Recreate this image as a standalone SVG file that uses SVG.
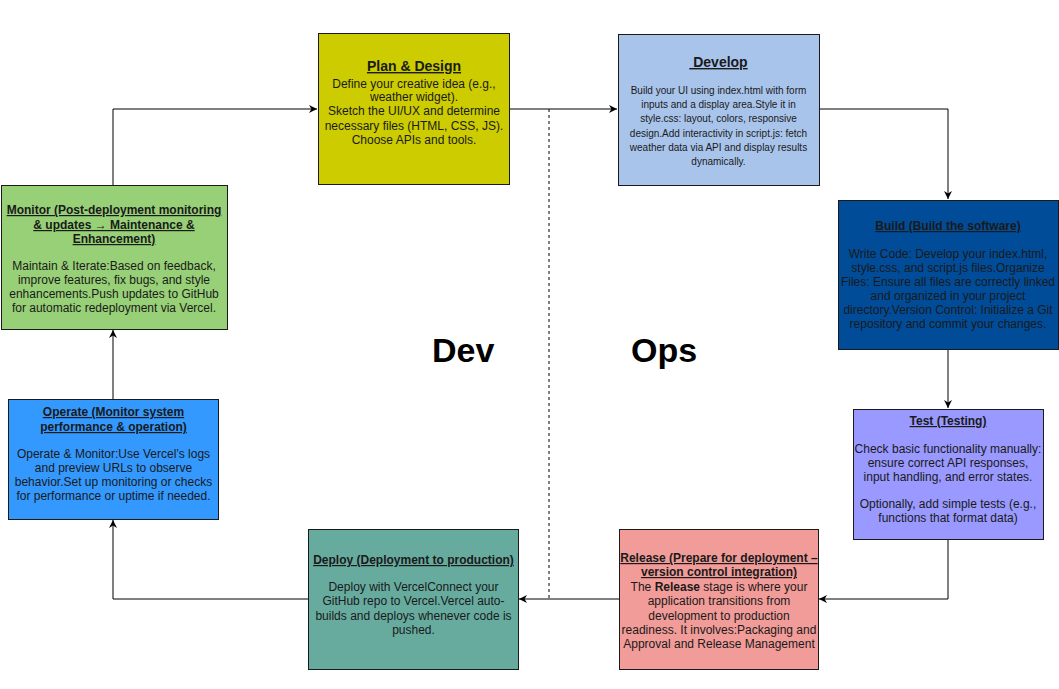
<svg xmlns="http://www.w3.org/2000/svg" width="1059" height="689" viewBox="0 0 1059 689">
<style>
text{font-family:"Liberation Sans",Arial,sans-serif;fill:#1a1a1a;text-anchor:middle}
.t{font-size:12px;font-weight:bold;text-decoration:underline}
.t14{font-size:14px;font-weight:bold;text-decoration:underline}
.b{font-size:12px}
.s{font-size:10px}
.big{font-size:34px;font-weight:bold;fill:#000;text-anchor:start}
.box{stroke:#1a1a1a;stroke-width:1}
.c{fill:none;stroke:#000;stroke-width:1}
</style>
<defs>
<marker id="ah" viewBox="0 0 10 10" refX="10" refY="5" markerWidth="8" markerHeight="8" markerUnits="userSpaceOnUse" orient="auto">
<path d="M0,0 L10,5 L0,10 L3,5 z" fill="#000"/>
</marker>
</defs>
<rect width="1059" height="689" fill="#fff"/>
<g id="connectors">
<path class="c" d="M113,185 V109 H317" marker-end="url(#ah)"/>
<path class="c" d="M509,109 H617" marker-end="url(#ah)"/>
<path class="c" d="M819,109 H948 V199" marker-end="url(#ah)"/>
<path class="c" d="M948,349 V408" marker-end="url(#ah)"/>
<path class="c" d="M948,539 V599 H819" marker-end="url(#ah)"/>
<path class="c" d="M619,599 H519" marker-end="url(#ah)"/>
<path class="c" d="M308,599 H113 V520" marker-end="url(#ah)"/>
<path class="c" d="M113,399 V330" marker-end="url(#ah)"/>
<path class="c" d="M549,109 V598" stroke-dasharray="3,3"/>
</g>
<g id="plan">
<rect class="box" x="318.5" y="33.5" width="191" height="151" fill="#CCCC00" stroke="#36393d"/>
<text class="t14" x="414" y="71">Plan &amp; Design</text>
<text class="b" x="414" y="87.5">Define your creative idea (e.g.,</text>
<text class="b" x="414" y="100.5">weather widget).</text>
<text class="b" x="414" y="115">Sketch the UI/UX and determine</text>
<text class="b" x="414" y="129.5">necessary files (HTML, CSS, JS).</text>
<text class="b" x="414" y="143.5">Choose APIs and tools.</text>
</g>
<g id="develop">
<rect class="box" x="618.5" y="34.5" width="201" height="151" fill="#A9C4EB" stroke="#36393d"/>
<text class="t14" x="718.5" y="67" xml:space="preserve"> Develop</text>
<text class="s" x="718.5" y="93.5">Build your UI using index.html with form</text>
<text class="s" x="718.5" y="108">inputs and a display area.Style it in</text>
<text class="s" x="718.5" y="122">style.css: layout, colors, responsive</text>
<text class="s" x="718.5" y="136.5">design.Add interactivity in script.js: fetch</text>
<text class="s" x="718.5" y="151">weather data via API and display results</text>
<text class="s" x="718.5" y="165">dynamically.</text>
</g>
<g id="build">
<rect class="box" x="838.5" y="200.5" width="220" height="149" fill="#004C99"/>
<text class="t" x="948" y="230">Build (Build the software)</text>
<text class="b" x="948" y="257.5">Write Code: Develop your index.html,</text>
<text class="b" x="948" y="271.5">style.css, and script.js files.Organize</text>
<text class="b" x="948" y="285.5">Files: Ensure all files are correctly linked</text>
<text class="b" x="948" y="300">and organized in your project</text>
<text class="b" x="948" y="314">directory.Version Control: Initialize a Git</text>
<text class="b" x="948" y="328">repository and commit your changes.</text>
</g>
<g id="test">
<rect class="box" x="853.5" y="409.5" width="190" height="130" fill="#9999FF"/>
<text class="t" x="948" y="425">Test (Testing)</text>
<text class="b" x="948" y="452.5">Check basic functionality manually:</text>
<text class="b" x="948" y="467">ensure correct API responses,</text>
<text class="b" x="948" y="481">input handling, and error states.</text>
<text class="b" x="948" y="507.5">Optionally, add simple tests (e.g.,</text>
<text class="b" x="948" y="521.5">functions that format data)</text>
</g>
<g id="release">
<rect class="box" x="619.5" y="529.5" width="199" height="140" fill="#F19C99"/>
<text class="t" x="719" y="562">Release (Prepare for deployment –</text>
<text class="t" x="719" y="576">version control integration)</text>
<text class="b" x="719" y="591">The <tspan font-weight="bold">Release</tspan> stage is where your</text>
<text class="b" x="719" y="605">application transitions from</text>
<text class="b" x="719" y="620">development to production</text>
<text class="b" x="719" y="634">readiness. It involves:Packaging and</text>
<text class="b" x="719" y="648">Approval and Release Management</text>
</g>
<g id="deploy">
<rect class="box" x="308.5" y="529.5" width="210" height="140" fill="#67AB9F"/>
<text class="t" x="413.5" y="564">Deploy (Deployment to production)</text>
<text class="b" x="413.5" y="591">Deploy with VercelConnect your</text>
<text class="b" x="413.5" y="605">GitHub repo to Vercel.Vercel auto-</text>
<text class="b" x="413.5" y="620">builds and deploys whenever code is</text>
<text class="b" x="413.5" y="634">pushed.</text>
</g>
<g id="operate">
<rect class="box" x="8.5" y="399.5" width="210" height="120" fill="#3399FF"/>
<text class="t" x="113.5" y="416">Operate (Monitor system</text>
<text class="t" x="113.5" y="431">performance &amp; operation)</text>
<text class="b" x="113.5" y="457.5">Operate &amp; Monitor:Use Vercel’s logs</text>
<text class="b" x="113.5" y="471.5">and preview URLs to observe</text>
<text class="b" x="113.5" y="486">behavior.Set up monitoring or checks</text>
<text class="b" x="113.5" y="500">for performance or uptime if needed.</text>
</g>
<g id="monitor">
<rect class="box" x="1.5" y="185.5" width="226" height="144" fill="#97D077" stroke="#666"/>
<text class="t" x="114" y="214">Monitor (Post-deployment monitoring</text>
<text class="t" x="114" y="229">&amp; updates → Maintenance &amp;</text>
<text class="t" x="114" y="243">Enhancement)</text>
<text class="b" x="114" y="270">Maintain &amp; Iterate:Based on feedback,</text>
<text class="b" x="114" y="284">improve features, fix bugs, and style</text>
<text class="b" x="114" y="298">enhancements.Push updates to GitHub</text>
<text class="b" x="114" y="312">for automatic redeployment via Vercel.</text>
</g>
<g id="labels">
<text class="big" x="432" y="362">Dev</text>
<text class="big" x="631" y="362">Ops</text>
</g>
</svg>
